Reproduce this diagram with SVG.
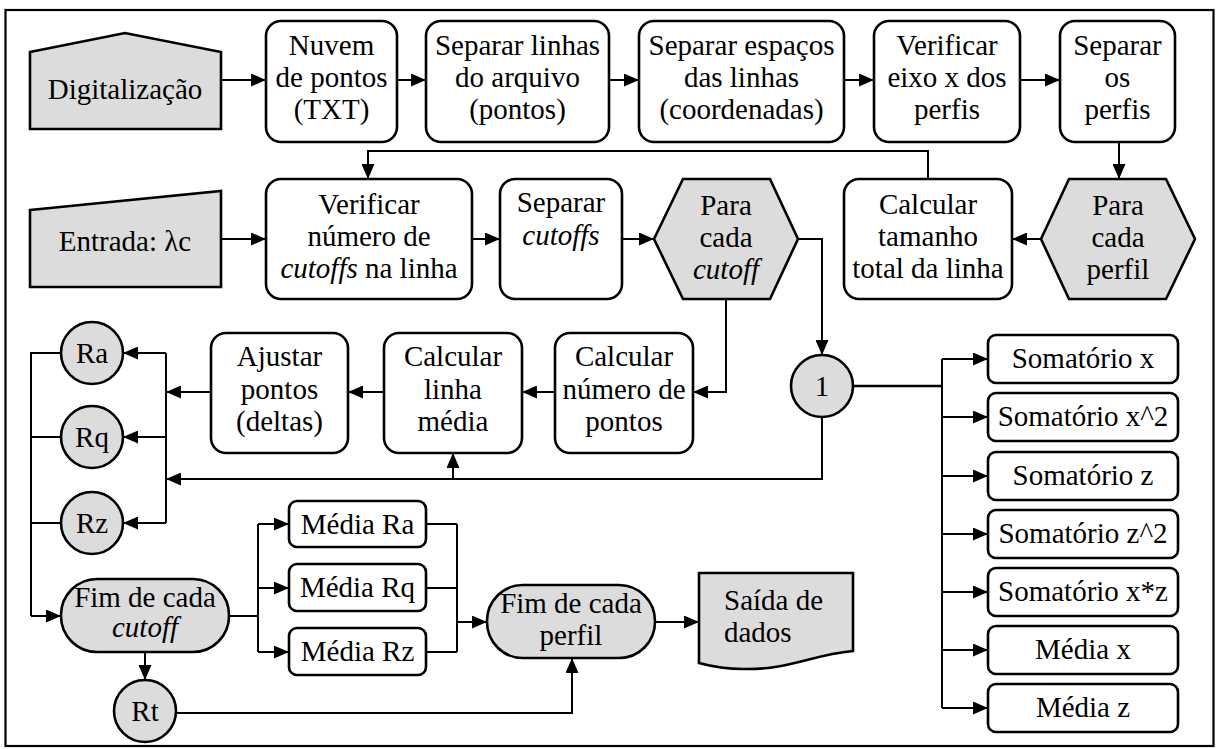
<svg xmlns="http://www.w3.org/2000/svg" width="1219" height="749" viewBox="0 0 1219 749">
<defs>
<marker id="ah" viewBox="0 0 15 13" refX="15" refY="6.5" markerWidth="15" markerHeight="13" orient="auto" markerUnits="userSpaceOnUse"><path d="M0,0 L15,6.5 L0,13 z" fill="#000"/></marker>
</defs>
<style>
.b{fill:#fff;stroke:#000;stroke-width:2.6}
.g{fill:#dcdcdc;stroke:#000;stroke-width:2.6}
.c{fill:none;stroke:#000;stroke-width:2}
.a{fill:none;stroke:#000;stroke-width:2;marker-end:url(#ah)}
.t text{font-size:29px;fill:#000;text-anchor:middle}
.t .i{font-style:italic}
.t .l{text-anchor:start}
</style>
<rect x="5.5" y="10" width="1208" height="736" fill="#fff" stroke="#000" stroke-width="2.2"/>

<g id="connectors">
<path class="a" d="M221,80 H266"/>
<path class="a" d="M397,80 H426"/>
<path class="a" d="M609,80 H639"/>
<path class="a" d="M844,80 H874"/>
<path class="a" d="M1020,80 H1060"/>
<path class="a" d="M1119,142 V179"/>
<path class="a" d="M1041,239 H1012"/>
<path class="a" d="M928,179 V151 H368 V179"/>
<path class="a" d="M221,239 H266"/>
<path class="a" d="M472,239 H500"/>
<path class="a" d="M622,239 H654"/>
<path class="a" d="M726,299 V392 H693"/>
<path class="a" d="M798,239 H822 V355"/>
<path class="a" d="M555,392 H522"/>
<path class="a" d="M384,392 H348"/>
<path class="a" d="M211,392 H166"/>
<path class="c" d="M166,353 V523"/>
<path class="a" d="M166,353 H123"/>
<path class="a" d="M166,437 H123"/>
<path class="a" d="M166,523 H123"/>
<path class="a" d="M822,417 V479 H166"/>
<path class="a" d="M453,479 V453"/>
<path class="c" d="M853,386 H942" style="stroke-width:2.6"/>
<path class="c" d="M942,359 V708"/>
<path class="a" d="M942,359 H988"/>
<path class="a" d="M942,417 H988"/>
<path class="a" d="M942,476 H988"/>
<path class="a" d="M942,534 H988"/>
<path class="a" d="M942,592 H988"/>
<path class="a" d="M942,650 H988"/>
<path class="a" d="M942,708 H988"/>
<path class="c" d="M61,353 H31 V616"/>
<path class="c" d="M61,437 H31"/>
<path class="c" d="M61,523 H31"/>
<path class="a" d="M31,616 H61"/>
<path class="c" d="M229,616 H258"/>
<path class="c" d="M258,524 V652"/>
<path class="a" d="M258,524 H289"/>
<path class="a" d="M258,588 H289"/>
<path class="a" d="M258,652 H289"/>
<path class="a" d="M145,652 V680"/>
<path class="c" d="M426,524 H457 M426,588 H457 M426,652 H457 M457,524 V652"/>
<path class="a" d="M457,622 H487"/>
<path class="a" d="M655,622 H699"/>
<path class="a" d="M176,713 H572 V658"/>
</g>

<g class="t" font-family="'Liberation Serif', 'Times New Roman', Times, 'DejaVu Serif', serif">
<g id="n-digitalizacao"><polygon class="g" points="30,52 125,33 221,52 221,129 30,129"/><text x="125" y="99">Digitalização</text></g>
<g id="n-nuvem"><rect class="b" x="266" y="21" width="131" height="121" rx="15"/><text x="331.5" y="55">Nuvem</text><text x="331.5" y="87">de pontos</text><text x="331.5" y="119">(TXT)</text></g>
<g id="n-sep-linhas"><rect class="b" x="426" y="21" width="183" height="121" rx="15"/><text x="517.5" y="55">Separar linhas</text><text x="517.5" y="87">do arquivo</text><text x="517.5" y="119">(pontos)</text></g>
<g id="n-sep-espacos"><rect class="b" x="639" y="21" width="205" height="121" rx="15"/><text x="741.5" y="55">Separar espaços</text><text x="741.5" y="87">das linhas</text><text x="741.5" y="119">(coordenadas)</text></g>
<g id="n-ver-eixo"><rect class="b" x="874" y="21" width="146" height="121" rx="15"/><text x="947" y="55">Verificar</text><text x="947" y="87">eixo x dos</text><text x="947" y="119">perfis</text></g>
<g id="n-sep-perfis"><rect class="b" x="1060" y="21" width="115" height="121" rx="15"/><text x="1117.5" y="55">Separar</text><text x="1117.5" y="87">os</text><text x="1117.5" y="119">perfis</text></g>

<g id="n-entrada"><polygon class="g" points="30,210 221,191 221,287 30,287"/><text x="125" y="251">Entrada: λc</text></g>
<g id="n-ver-numero"><rect class="b" x="266" y="179" width="206" height="120" rx="15"/><text x="369" y="214">Verificar</text><text x="369" y="246">número de</text><text x="369" y="278"><tspan class="i">cutoffs</tspan> na linha</text></g>
<g id="n-sep-cutoffs"><rect class="b" x="500" y="179" width="122" height="120" rx="15"/><text x="561" y="212">Separar</text><text x="561" y="245" class="i">cutoffs</text></g>
<g id="n-para-cutoff"><polygon class="g" points="654,239 683,179 770,179 798,239 770,299 683,299"/><text x="726" y="215">Para</text><text x="726" y="247">cada</text><text x="726" y="279" class="i">cutoff</text></g>
<g id="n-calc-tamanho"><rect class="b" x="844" y="179" width="168" height="120" rx="15"/><text x="928" y="214">Calcular</text><text x="928" y="246">tamanho</text><text x="928" y="278">total da linha</text></g>
<g id="n-para-perfil"><polygon class="g" points="1041,239 1069,179 1166,179 1195,239 1166,299 1069,299"/><text x="1118" y="215">Para</text><text x="1118" y="247">cada</text><text x="1118" y="279">perfil</text></g>

<g id="n-ajustar"><rect class="b" x="211" y="333" width="137" height="120" rx="15"/><text x="279.5" y="366">Ajustar</text><text x="279.5" y="399">pontos</text><text x="279.5" y="431">(deltas)</text></g>
<g id="n-linha-media"><rect class="b" x="384" y="333" width="138" height="120" rx="15"/><text x="453" y="366">Calcular</text><text x="453" y="399">linha</text><text x="453" y="431">média</text></g>
<g id="n-num-pontos"><rect class="b" x="555" y="333" width="138" height="120" rx="15"/><text x="624" y="366">Calcular</text><text x="624" y="399">número de</text><text x="624" y="431">pontos</text></g>
<g id="n-1"><circle class="g" cx="822" cy="386" r="31"/><text x="822" y="396">1</text></g>

<g id="n-ra"><circle class="g" cx="92" cy="353" r="31"/><text x="92" y="363">Ra</text></g>
<g id="n-rq"><circle class="g" cx="92" cy="437" r="31"/><text x="92" y="447">Rq</text></g>
<g id="n-rz"><circle class="g" cx="92" cy="523" r="31"/><text x="92" y="533">Rz</text></g>
<g id="n-fim-cutoff"><rect class="g" x="61" y="579" width="168" height="73" rx="36"/><text x="145" y="607">Fim de cada</text><text x="145" y="637" class="i">cutoff</text></g>
<g id="n-rt"><circle class="g" cx="145" cy="711" r="31"/><text x="145" y="721">Rt</text></g>
<g id="n-media-ra"><rect class="b" x="289" y="501" width="137" height="46" rx="8"/><text x="357.5" y="534">Média Ra</text></g>
<g id="n-media-rq"><rect class="b" x="289" y="564" width="137" height="47" rx="8"/><text x="357.5" y="597">Média Rq</text></g>
<g id="n-media-rz"><rect class="b" x="289" y="628" width="137" height="47" rx="8"/><text x="357.5" y="661">Média Rz</text></g>
<g id="n-fim-perfil"><rect class="g" x="487" y="585" width="168" height="73" rx="36"/><text x="571" y="613">Fim de cada</text><text x="571" y="645">perfil</text></g>
<g id="n-saida"><path class="g" d="M699,573 H853 V651 C810,655 790,670 743,669 C725,669 710,666 699,663 Z"/><text x="724" y="610" class="l">Saída de</text><text x="724" y="642" class="l">dados</text></g>

<g id="n-som-x"><rect class="b" x="988" y="335" width="190" height="48" rx="8"/><text x="1083" y="368">Somatório x</text></g>
<g id="n-som-x2"><rect class="b" x="988" y="393" width="190" height="48" rx="8"/><text x="1083" y="426">Somatório x^2</text></g>
<g id="n-som-z"><rect class="b" x="988" y="452" width="190" height="48" rx="8"/><text x="1083" y="485">Somatório z</text></g>
<g id="n-som-z2"><rect class="b" x="988" y="510" width="190" height="48" rx="8"/><text x="1083" y="543">Somatório z^2</text></g>
<g id="n-som-xz"><rect class="b" x="988" y="568" width="190" height="48" rx="8"/><text x="1083" y="601">Somatório x*z</text></g>
<g id="n-media-x"><rect class="b" x="988" y="626" width="190" height="48" rx="8"/><text x="1083" y="659">Média x</text></g>
<g id="n-media-z"><rect class="b" x="988" y="684" width="190" height="48" rx="8"/><text x="1083" y="717">Média z</text></g>
</g>
</svg>
